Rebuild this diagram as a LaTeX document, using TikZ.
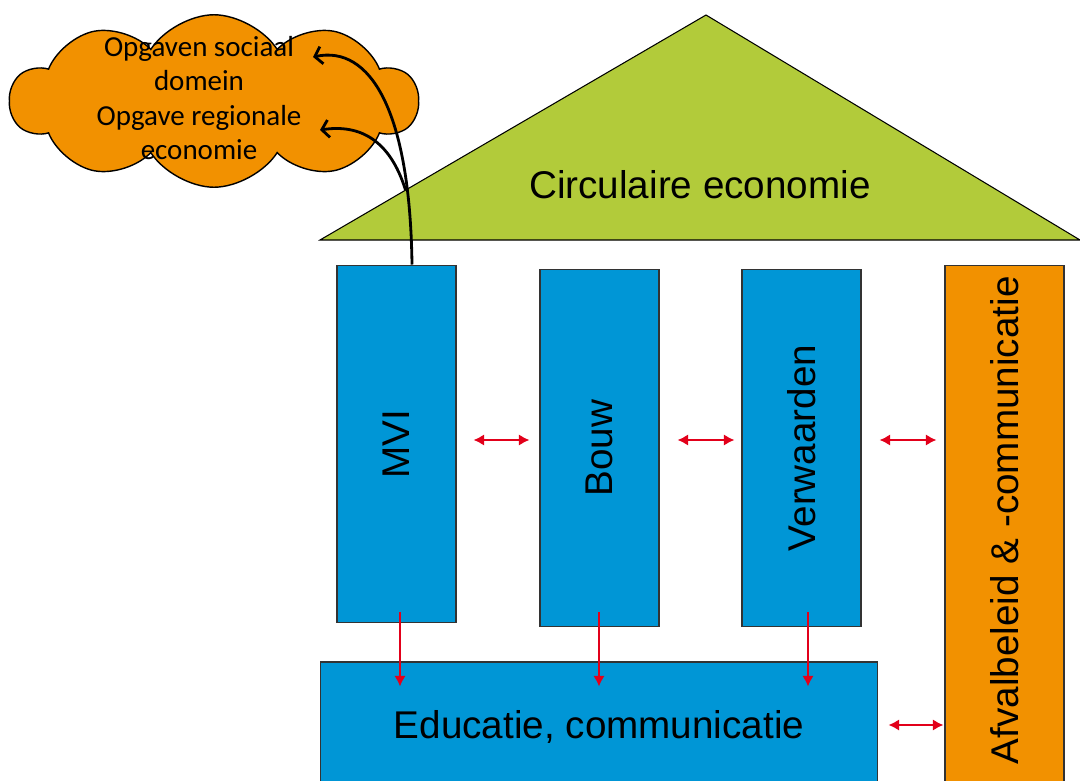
\documentclass[tikz,border=0pt]{standalone}
\usepackage{fontspec}
\setmainfont{Liberation Sans}
\newfontfamily\cloudfont{Carlito}
\usetikzlibrary{shapes.symbols,arrows.meta,calc}
\definecolor{roofgreen}{RGB}{178,203,58}
\definecolor{pillarblue}{RGB}{0,150,214}
\definecolor{wasteorange}{RGB}{242,145,0}
\definecolor{linkred}{RGB}{226,0,26}
\begin{document}
\begin{tikzpicture}[x=0.02cm, y=-0.02cm,
    pillar/.style = {shape=rectangle, draw=black!80, line width=0.6pt,
      fill=pillarblue, minimum width=2.38cm, minimum height=7.16cm,
      inner sep=0pt, font=\fontsize{22}{26}\selectfont},
    link/.style = {draw=linkred, line width=1.6pt,
      {Latex[length=6pt,width=6.5pt]}-{Latex[length=6pt,width=6.5pt]}},
    feed/.style = {draw=linkred, line width=1.6pt, -{Latex[length=6pt,width=6.5pt]}},
    hook/.style = {draw=black, line width=1.6pt, -{Straight Barb[length=4pt,width=10pt]}}]
  \useasboundingbox (0,0) rectangle (1080,781);
  \clip (0,0) rectangle (1080,781);
  % roof
  \draw[fill=roofgreen, line width=0.6pt] (320,240) -- (706,15) -- (1080,240) -- cycle;
  \node (roof) at (700,185) {\fontsize{22}{26}\selectfont Circulaire economie};
  % pillars
  \node[pillar] (mvi) at (396.5,444) {\rotatebox{90}{MVI}};
  \node[pillar] (bouw) at (599.5,448) {\rotatebox{90}{Bouw}};
  \node[pillar] (verw) at (801.5,448) {\rotatebox{90}{Verwaarden}};
  \node[pillar, fill=wasteorange, minimum height=10.7cm] (afval) at (1004.5,532.5)
    {\rotatebox{90}{\hspace*{14pt}Afvalbeleid \& -communicatie}};
  \node[pillar, minimum width=11.16cm, minimum height=2.6cm] (edu) at (599,727)
    {Educatie, communicatie};
  % cloud
  \node[cloud, cloud puffs=10, cloud puff arc=115, cloud ignores aspect,
    draw=black, line width=0.8pt, fill=wasteorange,
    minimum width=8.15cm, minimum height=3.45cm] (cloud) at (214,101) {};
  \node[align=center, font=\cloudfont\fontsize{16.5}{19.5}\selectfont] (opgaven) at (199,98)
    {Opgaven sociaal\\domein\\Opgave regionale\\economie};
  \coordinate (sociaal) at (313,57);
  \coordinate (regionaal) at (320,130);
  \coordinate (edge) at (405.5,190);
  \draw[hook] ($(mvi.north)+(15.5,0)$) .. controls (410,110) and (370,45) .. (sociaal);
  \draw[hook] (edge) .. controls (390,140) and (360,124) .. (regionaal);
  % links
  \draw[link] ($(mvi.east)+(17,-4)$) -- ($(bouw.west)+(-10,-8)$);
  \draw[link] ($(bouw.east)+(18,-8)$) -- ($(verw.west)+(-7,-8)$);
  \draw[link] ($(verw.east)+(18,-8)$) -- ($(afval.west |- verw.east)+(-8,-8)$);
  \draw[link] ($(edu.east)+(10,-2)$) -- ($(afval.west |- edu.east)+(-1,-2)$);
  \draw[feed] ($(mvi.south)+(3.5,-11)$) -- ($(mvi.south |- edu.north)+(3.5,25)$);
  \draw[feed] ($(bouw.south)+(-0.5,-15)$) -- ($(bouw.south |- edu.north)+(-0.5,25)$);
  \draw[feed] ($(verw.south)+(6.5,-15)$) -- ($(verw.south |- edu.north)+(6.5,25)$);
\end{tikzpicture}
\end{document}
